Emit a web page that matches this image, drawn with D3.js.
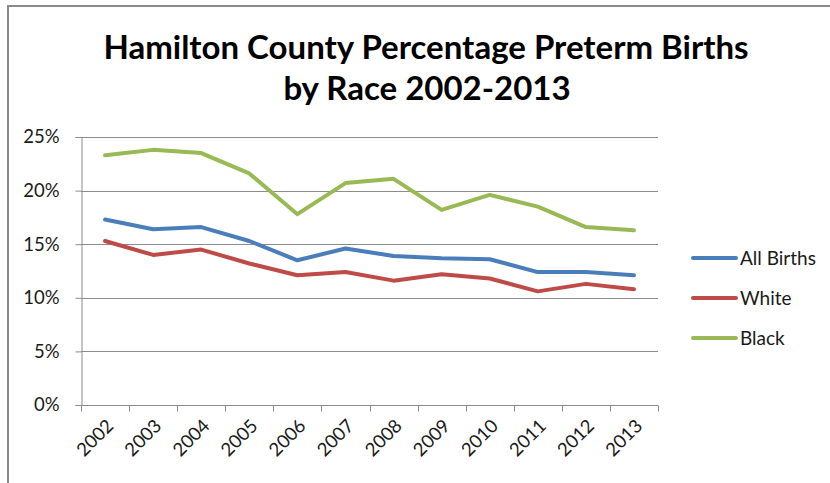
<!DOCTYPE html>
<html>
<head>
<meta charset="utf-8">
<script src="https://cdn.jsdelivr.net/npm/d3@7"></script>
<style>
  html, body { margin: 0; padding: 0; background: #fff; }
  svg { display: block; font-family: Lato, "Open Sans", sans-serif; }
</style>
</head>
<body>
<svg id="chart" width="830" height="483"></svg>
<script>
// Preterm birth percentages, Hamilton County, by year
const years = ["2002","2003","2004","2005","2006","2007","2008","2009","2010","2011","2012","2013"];
const allBirths = [17.3, 16.4, 16.6, 15.3, 13.5, 14.6, 13.9, 13.7, 13.6, 12.4, 12.4, 12.1];
const white     = [15.3, 14.0, 14.5, 13.2, 12.1, 12.4, 11.6, 12.2, 11.8, 10.6, 11.3, 10.8];
const black     = [23.3, 23.8, 23.5, 21.6, 17.8, 20.7, 21.1, 18.2, 19.6, 18.5, 16.6, 16.3];
const yTicks    = [0, 5, 10, 15, 20, 25];
const seriesNames  = ["All Births", "White", "Black"];
const seriesColors = ["#4a7ebb", "#be4b48", "#98b954"];

const series = [allBirths, white, black].map((vals, i) => ({
  name: seriesNames[i], color: seriesColors[i], values: vals
}));

const svg = d3.select("#chart");

// outer frame
svg.append("rect")
  .attr("x", 8).attr("y", 6).attr("width", 840).attr("height", 500)
  .attr("fill", "none").attr("stroke", "#8a8a8a").attr("stroke-width", 2);

// title
const title = svg.append("text")
  .attr("text-anchor", "middle")
  .attr("font-weight", "bold")
  .attr("font-size", 33)
  .attr("fill", "#000");
title.append("tspan").attr("x", 426).attr("y", 59).text("Hamilton County Percentage Preterm Births");
title.append("tspan").attr("x", 427).attr("y", 100).text("by Race 2002-2013");

const plot = { left: 81, right: 658, top: 137, bottom: 405 };

const x = d3.scaleBand().domain(years).range([plot.left, plot.right]);
const y = d3.scaleLinear().domain([0, 25]).range([plot.bottom, plot.top]);

// horizontal gridlines
svg.append("g")
  .selectAll("line")
  .data(yTicks)
  .join("line")
  .attr("x1", plot.left).attr("x2", plot.right)
  .attr("y1", d => Math.round(y(d)) + 0.5).attr("y2", d => Math.round(y(d)) + 0.5)
  .attr("stroke", "#8c8c8c").attr("stroke-width", 1);

// y axis
const yAxis = svg.append("g")
  .attr("transform", `translate(${plot.left + 0.5},0)`)
  .call(d3.axisLeft(y).tickValues(yTicks).tickFormat(d => d + "%").tickSize(6).tickPadding(16));
yAxis.select(".domain").attr("stroke", "#8c8c8c");
yAxis.selectAll(".tick line").attr("stroke", "#8c8c8c");
yAxis.selectAll(".tick text")
  .attr("font-size", 18.5).attr("fill", "#1a1a1a")
  .attr("font-family", "Lato, sans-serif");

// x axis: ticks at category boundaries
const xAxisG = svg.append("g")
  .attr("transform", `translate(0,${plot.bottom + 0.5})`);
xAxisG.append("line")
  .attr("x1", plot.left).attr("x2", plot.right)
  .attr("stroke", "#8c8c8c");
const boundaries = years.map(d => x(d)).concat([plot.right]);
xAxisG.selectAll("line.tk")
  .data(boundaries)
  .join("line")
  .attr("class", "tk")
  .attr("x1", d => Math.round(d) + 0.5).attr("x2", d => Math.round(d) + 0.5)
  .attr("y1", 0).attr("y2", 6)
  .attr("stroke", "#8c8c8c");
xAxisG.selectAll("text")
  .data(years)
  .join("text")
  .attr("text-anchor", "end")
  .attr("font-size", 18.5)
  .attr("fill", "#1a1a1a")
  .attr("transform", d => `translate(${x(d) + x.bandwidth() / 2 + 5},${17}) rotate(-45)`)
  .attr("dy", "0.35em")
  .text(d => d);

// lines
const line = d3.line()
  .x((d, i) => x(years[i]) + x.bandwidth() / 2)
  .y(d => y(d));

svg.append("g")
  .selectAll("path")
  .data(series)
  .join("path")
  .attr("d", d => line(d.values))
  .attr("fill", "none")
  .attr("stroke", d => d.color)
  .attr("stroke-width", 4)
  .attr("stroke-linejoin", "round")
  .attr("stroke-linecap", "round");

// legend
const legend = svg.append("g");
const legendY = [258, 298, 338];
series.forEach((s, i) => {
  legend.append("line")
    .attr("x1", 693).attr("x2", 736)
    .attr("y1", legendY[i]).attr("y2", legendY[i])
    .attr("stroke", s.color).attr("stroke-width", 4)
    .attr("stroke-linecap", "round");
  legend.append("text")
    .attr("x", 740).attr("y", legendY[i])
    .attr("dy", "0.35em")
    .attr("font-size", 19)
    .attr("fill", "#1a1a1a")
    .text(s.name);
});
</script>
</body>
</html>
